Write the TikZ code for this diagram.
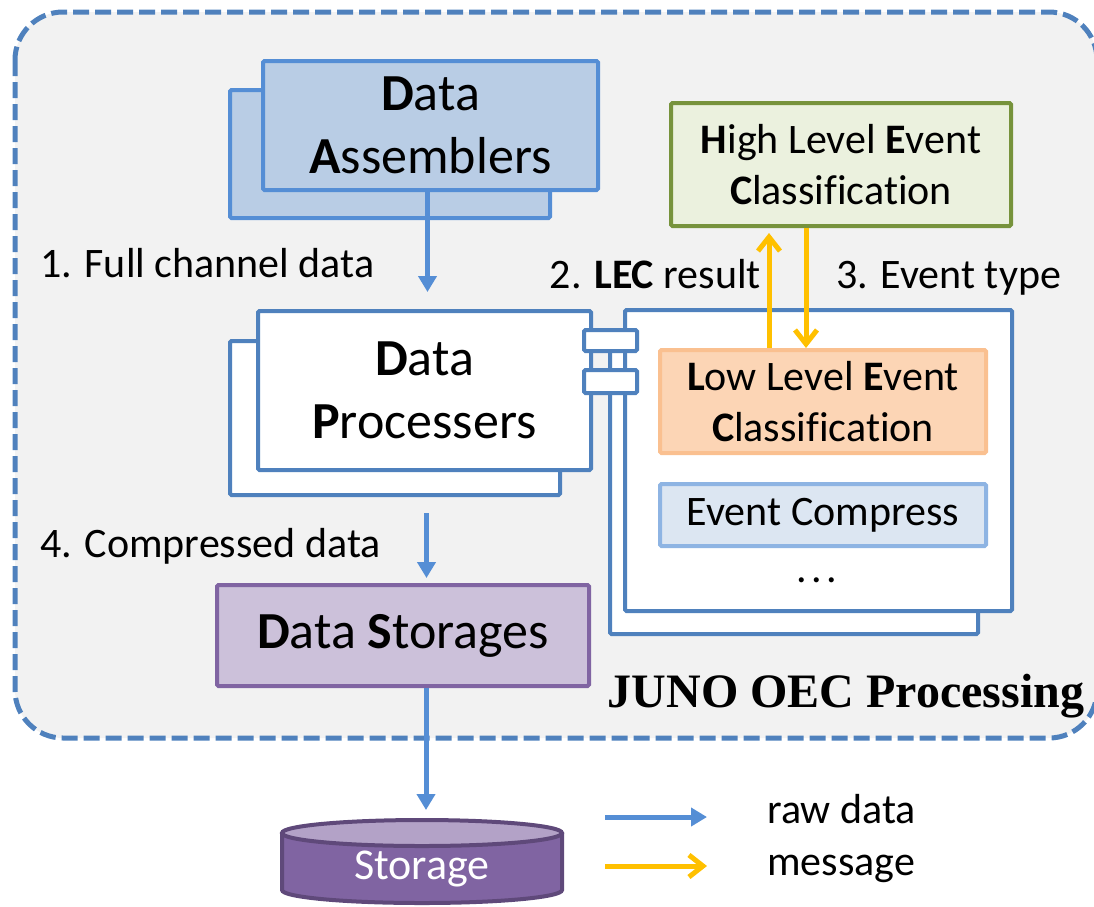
\documentclass[tikz,border=0pt]{standalone}
\usepackage{fontspec}
\setmainfont[Ligatures=CommonOff]{Carlito}
\newfontfamily\timesf{Liberation Serif}
\usetikzlibrary{arrows.meta,calc}
\definecolor{dashblue}{HTML}{4F81BD}
\definecolor{bggray}{HTML}{F2F2F2}
\definecolor{dafill}{HTML}{B9CDE5}
\definecolor{dastroke}{HTML}{558ED5}
\definecolor{dpstroke}{HTML}{4F81BD}
\definecolor{rawblue}{HTML}{558ED5}
\definecolor{dsfill}{HTML}{CCC1DA}
\definecolor{dsstroke}{HTML}{8064A2}
\definecolor{hlfill}{HTML}{EBF1DE}
\definecolor{hlstroke}{HTML}{77933C}
\definecolor{llfill}{HTML}{FCD5B5}
\definecolor{llstroke}{HTML}{FAC090}
\definecolor{ecfill}{HTML}{DCE6F2}
\definecolor{ecstroke}{HTML}{8EB4E3}
\definecolor{msgyellow}{HTML}{FFC000}
\definecolor{cylbody}{HTML}{8064A2}
\definecolor{cyltop}{HTML}{B3A2C7}
\definecolor{cylstroke}{HTML}{5F497A}
\begin{document}
\begin{tikzpicture}[x=1pt,y=-1pt,
  box/.style={draw, line width=4pt, rounded corners=1.5pt, inner sep=0pt, align=center},
  bigtxt/.style={font=\fontsize{52}{63}\selectfont},
  midtxt/.style={font=\fontsize{42}{51}\selectfont},
  lbl/.style={inner sep=0pt, font=\fontsize{42}{51}\selectfont},
  raw/.style={draw=rawblue, line width=5pt, -{Triangle[length=16pt,width=18pt]}},
  msg/.style={draw=msgyellow, line width=5pt, -{Straight Barb[length=14pt,width=22pt]}}
]
\useasboundingbox (0,0) rectangle (1094,906);
% outer dashed container
\begin{scope}
\clip (0,0) rectangle (1094,906);
\draw[draw=dashblue, fill=bggray, line width=5pt, dash pattern=on 16pt off 6pt, rounded corners=48pt] (15,12) rectangle (1097,738);
\end{scope}

% Data Assemblers
\node[box, draw=dastroke, fill=dafill, minimum width=320pt, minimum height=128pt] (dab) at (390,154) {};
\node[box, bigtxt, draw=dastroke, fill=dafill, minimum width=335pt, minimum height=129pt] (da) at (430.5,125.5) {\textbf{D}ata\\\textbf{A}ssemblers};

% Data Processers
\node[box, draw=dpstroke, fill=white, minimum width=330pt, minimum height=154pt] (dpb) at (395,418) {};
\node[box, bigtxt, draw=dpstroke, fill=white, minimum width=333pt, minimum height=159pt] (dp) at (424.5,390.5) {\textbf{D}ata\\\textbf{P}rocessers};

% right component
\node[box, draw=dpstroke, fill=white, minimum width=368pt, minimum height=294pt] (rb) at (794,487) {};
\node[box, draw=dpstroke, fill=white, minimum width=387pt, minimum height=301pt] (rf) at (818.5,460.5) {};
\node[box, midtxt, draw=llstroke, fill=llfill, minimum width=326pt, minimum height=103pt] (lec) at (823,401.5) {\textbf{L}ow Level \textbf{E}vent\\\textbf{C}lassification};
\node[box, midtxt, draw=ecstroke, fill=ecfill, minimum width=326pt, minimum height=62pt] (ec) at (823,515) {Event Compress};
\node[lbl, anchor=base] (dots) at (817,582) {.\kern4.5pt.\kern4.5pt.};

% plugs
\node[box, draw=dpstroke, fill=white, minimum width=53pt, minimum height=21pt] (pl1) at (610.5,340.5) {};
\node[box, draw=dpstroke, fill=white, minimum width=53pt, minimum height=23pt] (pl2) at (610.5,381.5) {};

% HLEC
\node[box, midtxt, draw=hlstroke, fill=hlfill, minimum width=340pt, minimum height=123pt] (hlec) at (841,164.5) {\textbf{H}igh Level \textbf{E}vent\\\textbf{C}lassification};

% Data Storages
\node[box, bigtxt, draw=dsstroke, fill=dsfill, minimum width=372pt, minimum height=101pt] (ds) at (403,635.5) {\textbf{D}ata \textbf{S}torages};

% Storage cylinder
\path[fill=cylbody, draw=cylstroke, line width=4pt] (282,833) -- (282,890) arc[start angle=180, end angle=0, x radius=140, y radius=13] -- (562,833);
\draw[fill=cyltop, draw=cylstroke, line width=4pt] (422,833) ellipse [x radius=140, y radius=13];
\node[inner sep=0pt, text=white, font=\fontsize{44}{52}\selectfont] (st) at (422,869) {Storage};

% labels
\node[lbl, anchor=base west] (l1) at (40,277) {1. Full channel data};
\node[lbl, anchor=base west] (l4) at (40,557) {4. Compressed data};
\node[lbl, anchor=base east] (l2) at (761,288) {2. \textbf{LEC} result};
\node[lbl, anchor=base west] (l3) at (836,288) {3. Event type};
\node[inner sep=0pt, anchor=base, font=\fontsize{48}{56}\selectfont\timesf\bfseries] (juno) at (846,707) {JUNO OEC Processing};

% raw data arrows
\draw[raw] ($(da.south)+(-3,0)$) -- ($(da.south |- dp.north)+(-3,-17)$);
\draw[raw] ($(dp.south)+(2,41)$) -- ($(dp.south |- ds.north)+(2,-5)$);
\draw[raw] ($(ds.south -| st)+(4,0)$) -- ($(st)+(4,-59)$);

% message arrows
\draw[msg] ($(lec.north)+(-54,0)$) -- ($(lec.north |- hlec.south)+(-54,5)$);
\draw[msg] ($(hlec.south -| lec.north)+(-17,0)$) -- ($(lec.north)+(-17,0)$);

% legend
\coordinate (r1) at (605,817);
\coordinate (r2) at (707,817);
\coordinate (m1) at (605,866);
\coordinate (m2) at (707,866);
\draw[raw] (r1) -- (r2);
\draw[msg] (m1) -- (m2);
\node[lbl, anchor=base west] (lraw) at (767,823) {raw data};
\node[lbl, anchor=base west] (lmsg) at (767,875) {message};
\end{tikzpicture}
\end{document}
